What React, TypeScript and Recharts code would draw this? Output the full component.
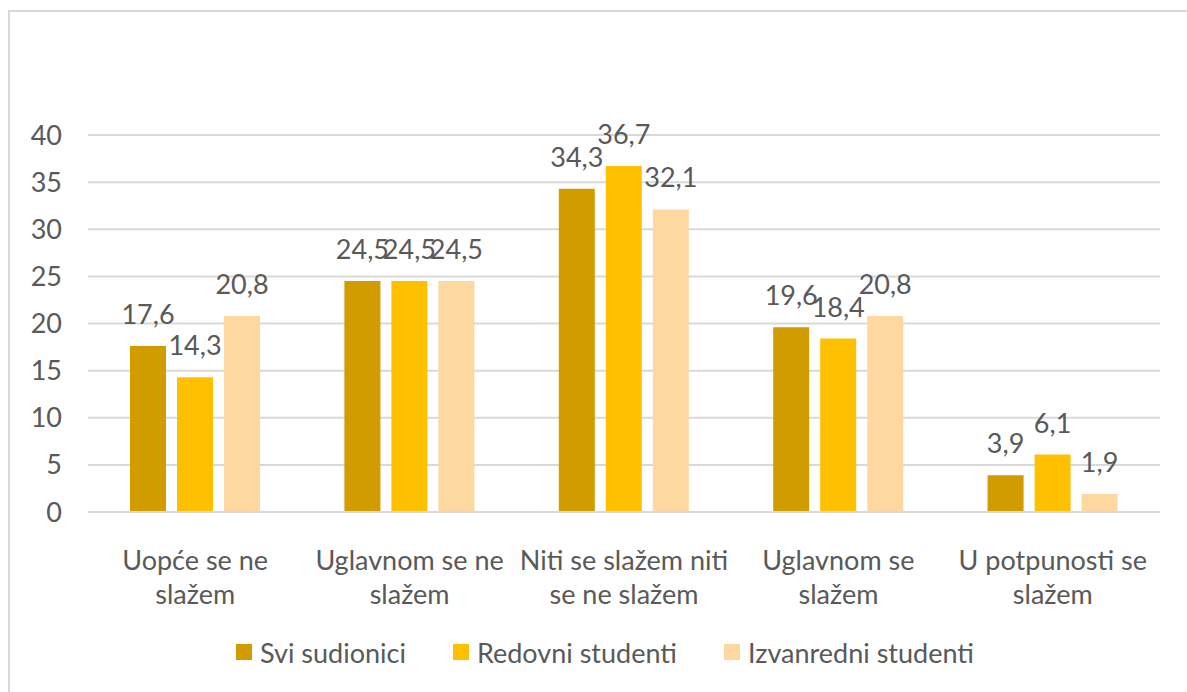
import React from "react";
import { BarChart, Bar, XAxis, YAxis, CartesianGrid, Legend, LabelList } from "recharts";

const categories = [
  ["Uopće se ne", "slažem"],
  ["Uglavnom se ne", "slažem"],
  ["Niti se slažem niti", "se ne slažem"],
  ["Uglavnom se", "slažem"],
  ["U potpunosti se", "slažem"],
];
const sviSudionici = [17.6, 24.5, 34.3, 19.6, 3.9];
const redovniStudenti = [14.3, 24.5, 36.7, 18.4, 6.1];
const izvanredniStudenti = [20.8, 24.5, 32.1, 20.8, 1.9];
const yTicks = [0, 5, 10, 15, 20, 25, 30, 35, 40];
const seriesNames = ["Svi sudionici", "Redovni studenti", "Izvanredni studenti"];
const colors = ["#D09C00", "#FFC000", "#FFD8A0"];

const data = categories.map((c, i) => ({
  name: c.join("\n"),
  s0: sviSudionici[i],
  s1: redovniStudenti[i],
  s2: izvanredniStudenti[i],
}));

const FONT = "Lato, 'Open Sans', sans-serif";
const TEXT = "#595959";
const FS = 27;

const fmt = (v: any) => String(v).replace(".", ",");

const XTick = (props: any) => {
  const { x, y, payload } = props;
  const lines = String(payload.value).split("\n");
  return (
    <g transform={`translate(${x},${y})`}>
      {lines.map((l, i) => (
        <text key={i} x={0} y={41 + i * 34} dy="0.35em" textAnchor="middle" fill={TEXT} fontSize={FS} fontFamily={FONT}>
          {l}
        </text>
      ))}
    </g>
  );
};

const LegendContent = () => (
  <div style={{ height: 50, display: "flex", justifyContent: "center", alignItems: "center", fontFamily: FONT, fontSize: FS, color: TEXT, transform: "translateX(25px)" }}>
    {seriesNames.map((n, i) => (
      <div key={n} style={{ display: "flex", alignItems: "center", marginLeft: i === 0 ? 0 : 47 }}>
        <div style={{ width: 16, height: 16, background: colors[i], marginRight: 8 }} />
        <span>{n}</span>
      </div>
    ))}
  </div>
);

export default function App() {
  return (
    <div style={{ position: "absolute", left: 0, top: 0, width: 1187, height: 692, overflow: "hidden", background: "#fff" }}>
      <div style={{ position: "absolute", left: 8, top: 10, width: 1400, height: 900, borderLeft: "2px solid #d9d9d9", borderTop: "2px solid #d9d9d9" }} />
      <div style={{ position: "absolute", left: 0, top: 0 }}>
        <BarChart width={1187} height={692} data={data} margin={{ top: 135, right: 27, left: 0, bottom: 15 }} barSize={36} barGap={11}>
          <CartesianGrid vertical={false} stroke="#d9d9d9" strokeWidth={2} />
          <XAxis dataKey="name" height={115} tickLine={false} axisLine={{ stroke: "#d9d9d9", strokeWidth: 2 }} tick={<XTick />} interval={0} />
          <YAxis width={88} domain={[0, 40]} ticks={yTicks} tickLine={false} axisLine={false} tickSize={0} tickMargin={26}
            tick={{ fill: TEXT, fontSize: FS, fontFamily: FONT }} interval={0} />
          <Legend verticalAlign="bottom" wrapperStyle={{ height: 50 }} content={<LegendContent />} />
          {["s0", "s1", "s2"].map((k, i) => (
            <Bar key={k} dataKey={k} name={seriesNames[i]} fill={colors[i]} isAnimationActive={false}>
              <LabelList dataKey={k} position="top" offset={22} formatter={fmt} fill={TEXT} fontSize={FS} fontFamily={FONT} />
            </Bar>
          ))}
        </BarChart>
      </div>
    </div>
  );
}
